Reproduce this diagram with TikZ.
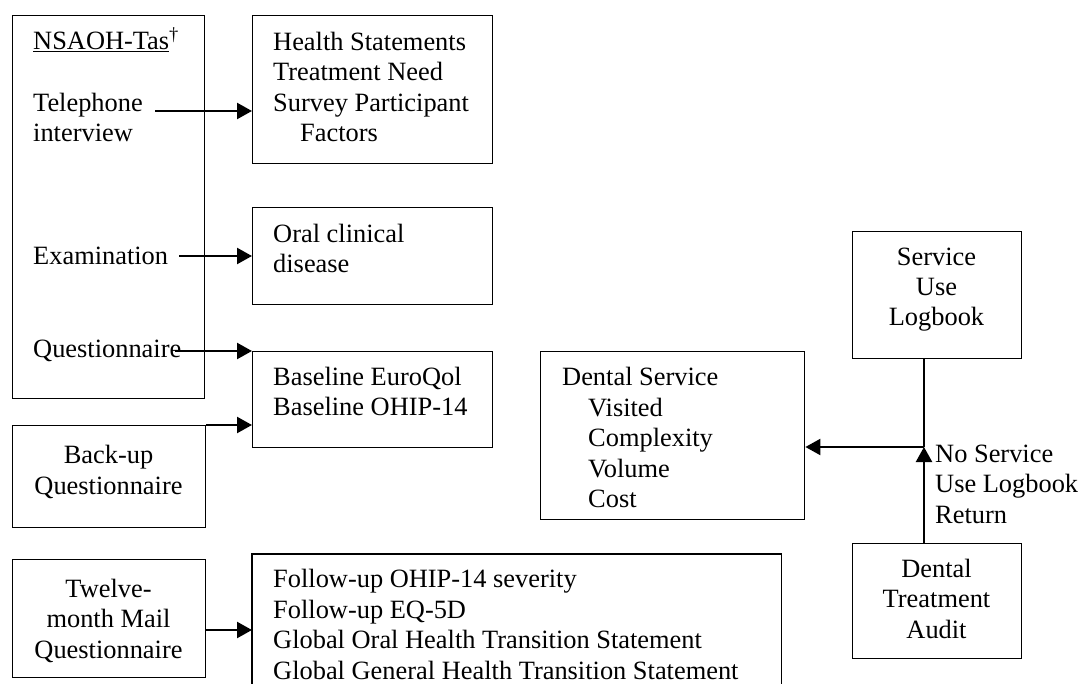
\documentclass[tikz,border=0pt]{standalone}
\usepackage{fontspec}
\setmainfont{Liberation Serif}
\usetikzlibrary{arrows.meta}

\tikzset{
  box/.style={draw, line width=1.4pt, minimum width=0pt, minimum height=0pt, inner sep=0pt, anchor=north west},
  % multi-line texts are placed by the baseline of their last line
  txt/.style={inner sep=0pt, anchor=base west, align=left,
    font=\fontsize{26.4pt}{30.4pt}\selectfont},
  ctxt/.style={txt, anchor=base, align=center},
  arr/.style={line width=2.3pt, -{Triangle[length=15pt,width=16pt]}},
  thin/.style={line width=1.4pt},
}

\begin{document}
\begin{tikzpicture}[x=1pt, y=-1pt]
\useasboundingbox (0,0) rectangle (1081,684);

% boxes
\node[box, minimum width=192pt, minimum height=383pt] (nsaoh) at (12,15) {};
\node[box, minimum width=240pt, minimum height=148pt] (hs) at (252,15) {};
\node[box, minimum width=240pt, minimum height=97pt] (ocd) at (252,207) {};
\node[box, minimum width=240pt, minimum height=96pt] (base) at (252,351) {};
\node[box, minimum width=193pt, minimum height=102pt] (backup) at (12,425) {};
\node[box, minimum width=193pt, minimum height=118pt] (twelve) at (12,559) {};
\node[box, draw=none, minimum width=528pt, minimum height=130pt] (follow) at (252,554) {};
\draw[thin] (follow.south west) |- (follow.north east) -- (follow.south east);
\node[box, minimum width=264pt, minimum height=168pt] (dental) at (540,351) {};
\node[box, minimum width=169pt, minimum height=127pt] (sul) at (852,231) {};
\node[box, minimum width=169pt, minimum height=115pt] (dta) at (852,543) {};

% texts
\node[txt] (tnsaoh) at (33,50) {\underline{NSAOH-Tas}\textsuperscript{\dag}};
\node[txt] (ttel) at (33,142) {Telephone\\interview};
\node[txt] (texam) at (33,265) {Examination};
\node[txt] (tquest) at (33,358) {Questionnaire};
\node[txt] (ths) at (273,141.5) {Health Statements\\Treatment Need\\Survey Participant\\\hspace*{27pt}Factors};
\node[txt] (tocd) at (273,272.5) {Oral clinical\\disease};
\node[txt] (tbase) at (273,415.5) {Baseline EuroQol\\Baseline OHIP-14};
\node[ctxt] (tbackup) at (108.5,494) {Back-up\\Questionnaire};
\node[ctxt] (ttwelve) at (108.5,658) {Twelve-\\month Mail\\Questionnaire};
\node[txt] (tfollow) at (273,679) {Follow-up OHIP-14 severity\\Follow-up EQ-5D\\Global Oral Health Transition Statement\\Global General Health Transition Statement};
\node[txt] (tdental) at (562,507.5) {Dental Service\\\hspace*{26pt}Visited\\\hspace*{26pt}Complexity\\\hspace*{26pt}Volume\\\hspace*{26pt}Cost};
\node[ctxt] (tsul) at (936.5,326) {Service\\Use\\Logbook};
\node[txt] (tnoserv) at (935,523) {No Service\\Use Logbook\\Return};
\node[ctxt] (tdta) at (936.5,638) {Dental\\Treatment\\Audit};

% connector start points
\coordinate (telout) at (155,111);
\coordinate (examout) at (179,256);
\coordinate (questout) at (175,351);
\coordinate (twout) at (205,630);
\coordinate (junction) at (924,447);

% connectors
\draw[arr] (telout) -- (telout -| hs.west);
\draw[arr] (examout) -- (examout -| ocd.west);
\draw[arr] (questout) -- (questout -| base.west);
\draw[arr] (backup.north east) -- (backup.north east -| base.west);
\draw[arr] (twout) -- (twout -| follow.west);
\draw[thin] (junction |- sul.south) -- (junction);
\draw[arr] (junction) -- (junction -| dental.east);
\draw[arr] (junction |- dta.north) -- (junction);
\end{tikzpicture}
\end{document}
